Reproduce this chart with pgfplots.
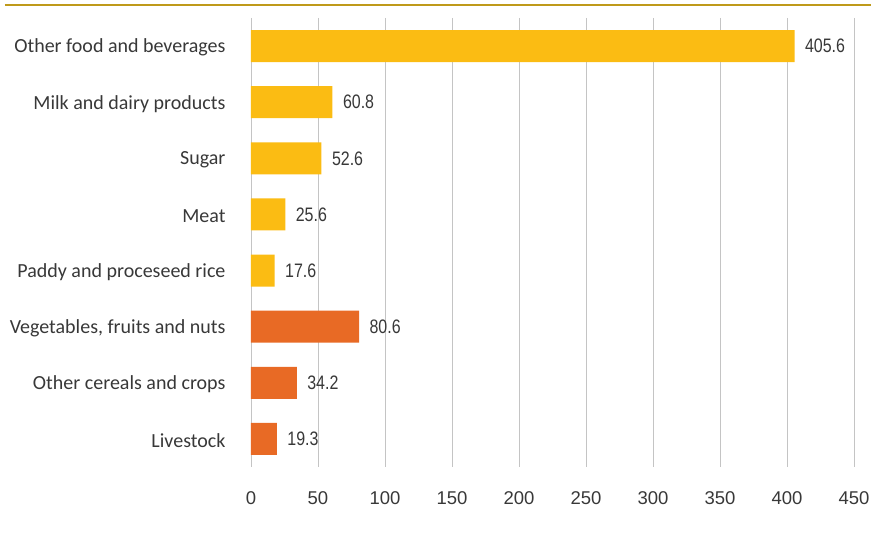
\documentclass[border=0pt]{standalone}
\usepackage{fontspec}
\setmainfont{Liberation Sans}
\newfontfamily\catfont{Carlito}
\newfontfamily\narrowfont{Liberation Sans}[FakeStretch=0.82]
\usepackage{pgfplots}
\pgfplotsset{compat=1.18}
\definecolor{gold}{HTML}{FBBC13}
\definecolor{orng}{HTML}{E86A25}
\definecolor{topline}{HTML}{BF9A1A}
\definecolor{txt}{HTML}{383838}
\definecolor{grd}{HTML}{C4C4C4}
\begin{document}
\begin{tikzpicture}
\useasboundingbox (-251pt,-70pt) rectangle (625pt,467pt);
\draw[topline, line width=1.2pt] (-246pt,462pt) -- (620pt,462pt);
\begin{axis}[
  at={(0pt,0pt)}, anchor=south west,
  scale only axis, width=603pt, height=449pt,
  xbar, bar width=32pt,
  xmin=0, xmax=450,
  ymin=-0.5, ymax=7.5, y dir=reverse,
  xtick={0,50,...,450},
  ytick={0,...,7},
  yticklabels={Other food and beverages, Milk and dairy products, Sugar, Meat, Paddy and proceseed rice, {Vegetables, fruits and nuts}, Other cereals and crops, Livestock},
  xmajorgrids, major grid style={grd, line width=0.9pt},
  axis line style={draw=none},
  major tick length=0pt,
  /pgf/number format/assume math mode=true,
  xticklabel style={font=\fontsize{18.5}{20}\selectfont, text=txt, anchor=center, yshift=-31pt},
  yticklabel style={font=\catfont\fontsize{20}{22}\selectfont, text=txt, anchor=east, xshift=-22pt, yshift=-1.5pt},
  nodes near coords,
  every node near coord/.append style={font=\narrowfont\fontsize{19.5}{21}\selectfont, text=txt, anchor=west, xshift=7pt},
  point meta=explicit symbolic,
]
\addplot[fill=gold, draw=none, bar shift=0pt] coordinates {
  (405.6,0) [405.6]
  (60.8,1) [60.8]
  (52.6,2) [52.6]
  (25.6,3) [25.6]
  (17.6,4) [17.6]
};
\addplot[fill=orng, draw=none, bar shift=0pt] coordinates {
  (80.6,5) [80.6]
  (34.2,6) [34.2]
  (19.3,7) [19.3]
};
\end{axis}
\end{tikzpicture}
\end{document}
